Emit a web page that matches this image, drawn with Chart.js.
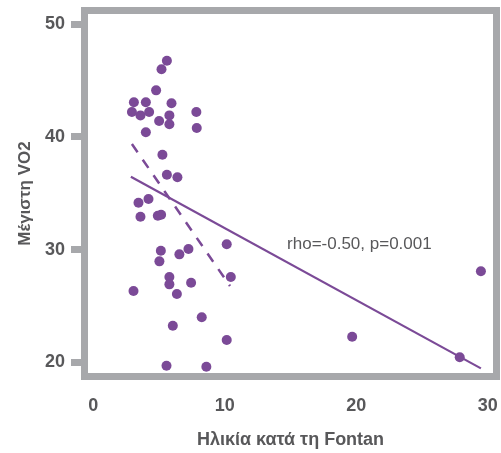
<!DOCTYPE html>
<html>
<head>
<meta charset="utf-8">
<script src="https://cdn.jsdelivr.net/npm/chart.js@4"></script>
<style>
  html, body { margin: 0; padding: 0; background: #fff; }
  canvas { display: block; }
</style>
</head>
<body>
<canvas id="chart" width="501" height="453"></canvas>
<script>
// Data
const ageAtFontan = [5.6, 5.19, 4.78, 3.09, 4.0, 5.95, 2.94, 3.59, 4.25, 5.79, 7.84, 5.01, 5.79, 4.0, 7.87,
    5.26, 5.6, 6.4, 3.44, 4.2, 3.59, 4.91, 5.16, 5.14, 5.03, 6.55, 7.24, 10.15, 5.79, 5.79, 7.44,
    10.46, 3.06, 6.36, 8.25, 6.05, 10.15, 5.57, 8.6, 19.69, 27.87, 29.48];
const peakVO2 = [46.76, 46.0, 44.13, 43.07, 43.07, 42.98, 42.21, 41.91, 42.21, 41.91, 42.21, 41.41, 41.12, 40.41, 40.79,
    38.42, 36.65, 36.42, 34.17, 34.49, 32.93, 33.01, 33.1, 29.91, 28.97, 29.59, 30.06, 30.48, 27.58, 26.93, 27.07,
    27.58, 26.34, 26.07, 24.01, 23.26, 22.0, 19.72, 19.63, 22.29, 20.46, 28.09];

// Fitted lines (end points)
const fitAllX = [2.86, 29.48];
const fitAllY = [36.47, 19.48];
const fitYoungX = [2.94, 10.4];
const fitYoungY = [39.37, 26.78];

const xTicks = [0, 10, 20, 30];
const yTicks = [20, 30, 40, 50];
const statsText = 'rho=-0.50, p=0.001';

const purple = '#7b4a97';
const frameGray = '#a7a8ab';
const textGray = '#58585a';
const fontFamily = '"Liberation Sans", Arial, sans-serif';

const toPoints = (xs, ys) => xs.map((x, i) => ({ x: x, y: ys[i] }));

// Thick grey frame around the plot area + the stats label
const framePlugin = {
    id: 'frame',
    beforeDatasetsDraw(chart) {
        const { ctx, chartArea } = chart;
        ctx.save();
        ctx.strokeStyle = frameGray;
        ctx.lineWidth = 7;
        ctx.strokeRect(chartArea.left - 3.5, chartArea.top - 3.5,
            chartArea.right - chartArea.left + 7, chartArea.bottom - chartArea.top + 7);
        ctx.restore();
    },
    afterDatasetsDraw(chart) {
        const { ctx, scales } = chart;
        ctx.save();
        ctx.fillStyle = textGray;
        ctx.font = '17px ' + fontFamily;
        ctx.textAlign = 'left';
        ctx.textBaseline = 'middle';
        ctx.fillText(statsText, scales.x.getPixelForValue(14.74), scales.y.getPixelForValue(30.5));
        ctx.restore();
    }
};

// fixed axis sizes, no extra padding for overflowing tick labels
function fixSize(s, w, h) {
    if (w) s.width = w;
    if (h) s.height = h;
    s.paddingLeft = 0;
    s.paddingRight = 0;
    s.paddingTop = 0;
    s.paddingBottom = 0;
}

const ctx = document.getElementById('chart').getContext('2d');
const chart = new Chart(ctx, {
    type: 'scatter',
    data: {
        datasets: [
            {
                data: toPoints(ageAtFontan, peakVO2),
                backgroundColor: purple,
                borderWidth: 0,
                pointRadius: 5,
                order: 1
            },
            {
                type: 'line',
                data: toPoints(fitAllX, fitAllY),
                borderColor: purple,
                borderWidth: 2.2,
                pointRadius: 0,
                fill: false,
                order: 2
            },
            {
                type: 'line',
                data: toPoints(fitYoungX, fitYoungY),
                borderColor: purple,
                borderWidth: 2.5,
                borderDash: [10, 9],
                pointRadius: 0,
                fill: false,
                order: 2
            }
        ]
    },
    options: {
        responsive: false,
        animation: false,
        layout: { padding: { top: 14, right: 8, left: 0, bottom: 0 } },
        plugins: {
            legend: { display: false },
            tooltip: { enabled: false }
        },
        scales: {
            x: {
                type: 'linear',
                min: -0.4,
                max: 30.4,
                afterFit: s => fixSize(s, 0, 80),
                afterBuildTicks: s => { s.ticks = xTicks.map(v => ({ value: v })); },
                grid: { display: false, drawTicks: false },
                border: { display: false },
                ticks: {
                    padding: 22,
                    color: textGray,
                    font: { family: fontFamily, size: 18, weight: 'bold' }
                },
                title: {
                    display: true,
                    text: 'Ηλικία κατά τη Fontan',
                    color: textGray,
                    font: { family: fontFamily, size: 18, weight: 'bold' },
                    padding: { top: 0, bottom: 2 }
                }
            },
            y: {
                min: 19.07,
                max: 50.9,
                afterFit: s => fixSize(s, 88, 0),
                afterBuildTicks: s => { s.ticks = yTicks.map(v => ({ value: v })); },
                grid: {
                    drawOnChartArea: false,
                    drawTicks: true,
                    tickLength: 17,
                    lineWidth: 7,
                    color: frameGray
                },
                border: { display: false },
                ticks: {
                    padding: 6,
                    color: textGray,
                    font: { family: fontFamily, size: 18, weight: 'bold' }
                },
                title: {
                    display: true,
                    text: 'Μέγιστη VO2',
                    color: textGray,
                    font: { family: fontFamily, size: 17, weight: 'bold' },
                    padding: { top: 15, bottom: 0 }
                }
            }
        }
    },
    plugins: [framePlugin]
});
</script>
</body>
</html>
